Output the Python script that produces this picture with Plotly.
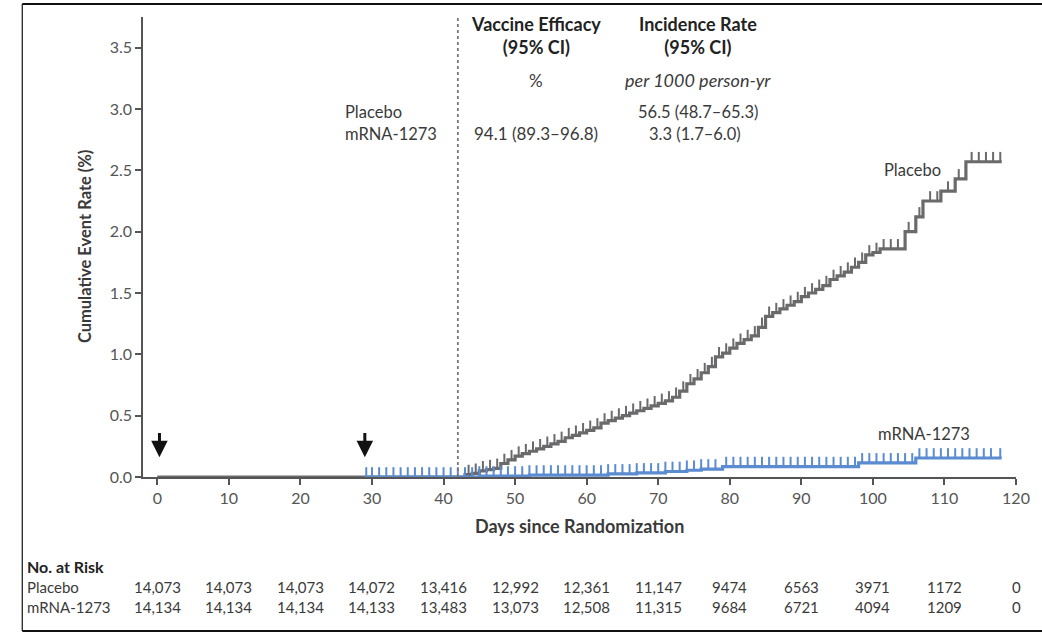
import bisect
import plotly.graph_objects as go

# ---------------- data ----------------
placebo_days = [0, 43, 44, 45, 46, 47, 48, 49, 50, 51, 52, 53, 54, 55, 56, 57, 58, 59, 60,
                61, 62, 63, 64, 65, 66, 67, 68, 69, 70, 71, 72, 73, 74, 75, 76, 77, 78, 79, 80,
                81, 82, 83, 84, 85, 86, 87, 88, 89, 90, 91, 92, 93, 94, 95, 96, 97, 98, 99, 100,
                101, 104.5, 106, 107, 109.5, 111.5, 113, 118]
placebo_rate = [0.0, 0.02, 0.03, 0.05, 0.06, 0.07, 0.11, 0.14, 0.17, 0.19, 0.21, 0.23, 0.25, 0.27, 0.29, 0.32, 0.34, 0.36, 0.38,
                0.40, 0.44, 0.46, 0.48, 0.50, 0.52, 0.54, 0.56, 0.58, 0.60, 0.62, 0.65, 0.70, 0.76, 0.80, 0.85, 0.90, 0.98, 1.01, 1.05,
                1.09, 1.12, 1.15, 1.22, 1.31, 1.34, 1.37, 1.40, 1.43, 1.47, 1.50, 1.53, 1.56, 1.61, 1.64, 1.67, 1.71, 1.75, 1.81, 1.83,
                1.86, 2.00, 2.12, 2.25, 2.33, 2.43, 2.57, 2.57]

vaccine_days = [29, 45, 52, 63, 67, 71, 74, 76, 79, 98, 106, 118]
vaccine_rate = [0.0, 0.008, 0.016, 0.025, 0.033, 0.045, 0.055, 0.065, 0.085, 0.115, 0.155, 0.155]

placebo_censor = [43.5, 44.5, 45.5, 46.5, 47.5, 48.5, 49.5, 50.5, 51.5, 52.5, 53.5, 54.5, 55.5, 56.5,
                  57.5, 58.5, 59.5, 60.5, 61.5, 62.5, 63.5, 64.5, 65.5, 66.5, 67.5, 68.5, 69.5, 70.5,
                  71.5, 72.5, 73.5, 74.5, 75.5, 76.5, 77.5, 78.5, 79.5, 80.5, 81.5, 82.5, 83.5, 84.5,
                  85.5, 86.5, 87.5, 88.5, 89.5, 90.5, 91.5, 92.5, 93.5, 94.5, 95.5, 96.5, 97.5, 98.5,
                  99.5, 100.5, 101.5, 102.5, 103.5, 105, 106.5, 108, 109, 110.5, 112, 113.8, 114.8,
                  115.8, 116.8, 117.8]
vaccine_censor = [29.2, 30, 31, 32, 33, 34, 35, 36, 37, 38, 39, 40, 41, 42, 43, 44, 45, 46, 47, 48,
                  49, 50, 51, 52, 53, 54, 55, 56, 57, 58, 59, 60, 61, 62, 63, 64, 65, 66, 67, 68,
                  69, 70, 71, 72, 73, 74, 75, 76, 77, 78, 79.5, 80.5, 81.5, 82.5, 83.5, 84.5, 85.5,
                  86.5, 87.5, 88.5, 89.5, 90.5, 91.5, 92.5, 93.5, 94.5, 95.5, 96.5, 97.5, 98.5, 99.5,
                  100.5, 101.5, 102.5, 103.5, 104.5, 105.5, 106.5, 107.5, 108.5, 109.5, 110.5, 111.5,
                  112.5, 113.5, 114.5, 115.5, 116.5, 117.8]

x_ticks = [0, 10, 20, 30, 40, 50, 60, 70, 80, 90, 100, 110, 120]
y_ticks = [0.0, 0.5, 1.0, 1.5, 2.0, 2.5, 3.0, 3.5]
y_tick_labels = ["0.0", "0.5", "1.0", "1.5", "2.0", "2.5", "3.0", "3.5"]

risk_days = [0, 10, 20, 30, 40, 50, 60, 70, 80, 90, 100, 110, 120]
risk_placebo = ["14,073", "14,073", "14,073", "14,072", "13,416", "12,992", "12,361",
                "11,147", "9474", "6563", "3971", "1172", "0"]
risk_vaccine = ["14,134", "14,134", "14,134", "14,133", "13,483", "13,073", "12,508",
                "11,315", "9684", "6721", "4094", "1209", "0"]

dose_days = [0.3, 29]
landmark_day = 42

GRAY = "#6a6a6c"
BLUE = "#5b8bd0"
TXT = "#3a3a3a"
FONT = "Lato"


def step_value(days, rates, t):
    i = bisect.bisect_right(days, t) - 1
    return rates[max(i, 0)]


fig = go.Figure()

# placebo curve
fig.add_trace(go.Scatter(x=placebo_days, y=placebo_rate, mode="lines",
                         line=dict(shape="hv", color=GRAY, width=3.2), hoverinfo="skip"))
fig.add_trace(go.Scatter(
    x=placebo_censor, y=[step_value(placebo_days, placebo_rate, t) for t in placebo_censor],
    mode="markers", marker=dict(size=1, color="rgba(0,0,0,0)"),
    error_y=dict(type="constant", symmetric=False, value=0.08, valueminus=0,
                 width=0, thickness=2, color=GRAY), hoverinfo="skip"))

# vaccine curve
fig.add_trace(go.Scatter(x=vaccine_days, y=vaccine_rate, mode="lines",
                         line=dict(shape="hv", color=BLUE, width=3.2), hoverinfo="skip"))
fig.add_trace(go.Scatter(
    x=vaccine_censor, y=[step_value(vaccine_days, vaccine_rate, t) for t in vaccine_censor],
    mode="markers", marker=dict(size=1, color="rgba(0,0,0,0)"),
    error_y=dict(type="constant", symmetric=False, value=0.08, valueminus=0,
                 width=0, thickness=2, color=BLUE), hoverinfo="skip"))

# landmark dotted line
fig.add_shape(type="line", xref="x", yref="y", x0=landmark_day, x1=landmark_day, y0=0, y1=3.78,
              line=dict(color="#777", width=1.8, dash="dot"))

# frame
for (x0, y0, x1, y1, w) in [(-0.1383, 1.0283, 1.03, 1.0283, 2.2),
                            (-0.1383, -0.3348, 1.03, -0.3348, 2.2),
                            (-0.1383, -0.3348, -0.1383, 1.0283, 1.2)]:
    fig.add_shape(type="line", xref="paper", yref="paper", x0=x0, y0=y0, x1=x1, y1=y1,
                  line=dict(color="#111", width=w))

ann = []
# dose arrows
for d in dose_days:
    ann.append(dict(x=d, y=0.16, ax=d, ay=0.37, xref="x", yref="y", axref="x", ayref="y",
                    text="", showarrow=True, arrowhead=2, arrowsize=1.1, arrowwidth=3,
                    arrowcolor="#111"))


def txt(x, y, s, size=16.5, color=TXT, xanchor="center", xref="x", yref="y", **kw):
    ann.append(dict(x=x, y=y, xref=xref, yref=yref, text=s, showarrow=False,
                    xanchor=xanchor, yanchor="middle",
                    font=dict(family=FONT, size=size, color=color), **kw))


txt(52.9, 3.60, "<b>Vaccine Efficacy</b><br><b>(95% CI)</b>", size=18, color="#222")
txt(75.5, 3.60, "<b>Incidence Rate</b><br><b>(95% CI)</b>", size=18, color="#222")
txt(52.9, 3.235, "%", size=17)
txt(75.5, 3.235, "<i>per 1000 person-yr</i>", size=18)
txt(75.5, 2.975, "56.5 (48.7–65.3)")
txt(52.9, 2.80, "94.1 (89.3–96.8)", size=17)
txt(75.1, 2.80, "3.3 (1.7–6.0)")
txt(25.9, 2.975, "Placebo", xanchor="left")
txt(25.9, 2.80, "mRNA-1273", xanchor="left")
txt(105.5, 2.50, "Placebo")
txt(107.2, 0.35, "mRNA-1273")

# axis titles
txt(-0.0663, 0.5, "<b>Cumulative Event Rate (%)</b>", size=16.5, xref="paper", yref="paper",
    textangle=-90)
txt(0.5, -0.1065, "<b>Days since Randomization</b>", size=18, xref="paper", yref="paper")

# risk table
txt(-0.1349, -0.1935, "<b>No. at Risk</b>", size=16, xref="paper", yref="paper", xanchor="left",
    color="#222")
txt(-0.1349, -0.2391, "Placebo", size=15, xref="paper", yref="paper", xanchor="left")
txt(-0.1349, -0.2826, "mRNA-1273", size=15, xref="paper", yref="paper", xanchor="left")
for d, a, b in zip(risk_days, risk_placebo, risk_vaccine):
    txt(d, -0.2391, a, yref="paper", size=15)
    txt(d, -0.2826, b, yref="paper", size=15)

fig.update_layout(
    width=1042, height=634, autosize=False,
    margin=dict(l=143, r=24, t=17, b=157),
    paper_bgcolor="white", plot_bgcolor="white",
    showlegend=False, annotations=ann,
    font=dict(family=FONT, color=TXT),
    xaxis=dict(range=[-2, 120], tickvals=x_ticks, ticks="outside", ticklen=6, tickwidth=1.5,
               tickcolor="#555", showline=True, linecolor="#555", linewidth=1.6,
               showgrid=False, zeroline=False, tickfont=dict(family=FONT, size=16, color="#555")),
    yaxis=dict(range=[0, 3.75], tickvals=y_ticks, ticktext=y_tick_labels, ticks="outside",
               ticklen=6, tickwidth=1.5, tickcolor="#555", showline=True, linecolor="#555",
               linewidth=1.6, showgrid=False, zeroline=False,
               tickfont=dict(family=FONT, size=16, color="#555")),
)

fig.write_html("out.html", config={"displayModeBar": False},
               post_script="document.body.style.margin='0';")
